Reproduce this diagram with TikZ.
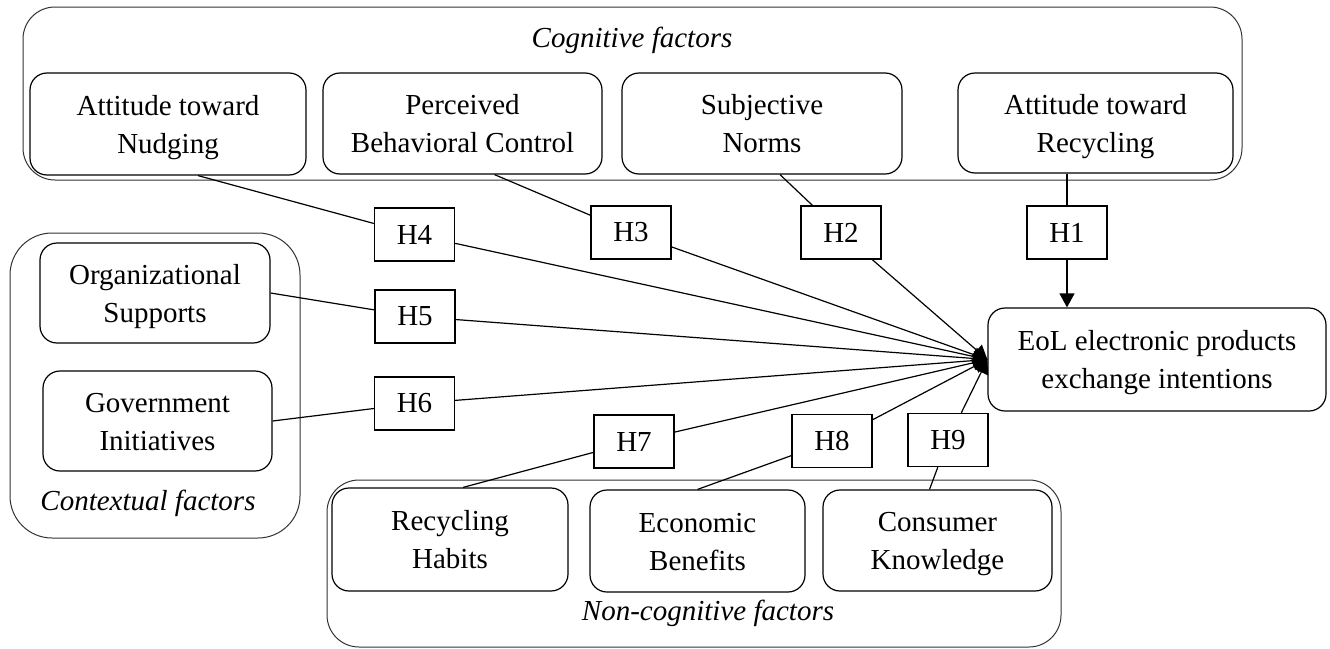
\documentclass[tikz,border=0pt]{standalone}
\usepackage{fontspec}
\setmainfont{Liberation Serif}
\usetikzlibrary{arrows.meta}
\newcommand\twolines[2]{\rule{0pt}{20pt}#1\\\raisebox{0pt}[\height][0pt]{#2}}
\begin{document}
\begin{tikzpicture}[x=1pt,y=-1pt,
  font=\fontsize{29}{38}\selectfont,
  group/.style={draw=black!80, line width=1pt, rounded corners=#1, inner sep=0pt},
  factor/.style={draw, line width=1.2pt, rounded corners=17pt, align=center, inner sep=0pt},
  hyp/.style={draw, line width=1.4pt, fill=white, minimum width=80pt, minimum height=53pt, inner sep=0pt},
  link/.style={line width=1.2pt},
  arr/.style={line width=1.2pt, -{Triangle[width=15pt,length=14pt]}},
  gtitle/.style={font=\fontsize{29}{38}\selectfont\itshape, inner sep=0pt}
]
\useasboundingbox (0,0) rectangle (1330,648);

% group boxes
\node[group=32pt, minimum width=1219pt, minimum height=173pt] (cog) at (632.5,93.5) {};
\node[group=42pt, minimum width=290pt, minimum height=305pt] (ctx) at (155,385.5) {};
\node[group=32pt, minimum width=734pt, minimum height=167pt] (ncog) at (694,563.5) {};

\node[gtitle] (cogt) at (632,40) {Cognitive factors};
\node[gtitle] (ctxt) at (148,503) {Contextual factors};
\node[gtitle] (ncogt) at (708,613) {Non-cognitive factors};

% factor boxes
\node[factor, minimum width=276pt, minimum height=102pt] (nud) at (168,124) {\twolines{Attitude toward}{Nudging}};
\node[factor, minimum width=279pt, minimum height=101pt] (pbc) at (462.5,123.5) {\twolines{Perceived}{Behavioral Control}};
\node[factor, minimum width=280pt, minimum height=101pt] (sn) at (762,123.5) {\twolines{Subjective}{Norms}};
\node[factor, minimum width=275pt, minimum height=100pt] (atr) at (1095.5,123) {\twolines{Attitude toward}{Recycling}};

\node[factor, minimum width=230pt, minimum height=100pt] (org) at (155,293) {\twolines{Organizational}{Supports}};
\node[factor, minimum width=229pt, minimum height=100pt] (gov) at (157.5,421) {\twolines{Government}{Initiatives}};

\node[factor, minimum width=236pt, minimum height=103pt] (rh) at (450,539.5) {\twolines{Recycling}{Habits}};
\node[factor, minimum width=215pt, minimum height=102pt] (eb) at (697.5,541) {\twolines{Economic}{Benefits}};
\node[factor, minimum width=229pt, minimum height=101pt] (ck) at (937.5,540.5) {\twolines{Consumer}{Knowledge}};

\node[factor, minimum width=338pt, minimum height=103pt] (eol) at (1157,359.5) {\twolines{EoL electronic products}{exchange intentions}};

% hypothesis boxes
\node[hyp] (h4) at (414.5,234.5) {H4};
\node[hyp] (h3) at (631,232.5) {H3};
\node[hyp] (h2) at (841,232.5) {H2};
\node[hyp] (h1) at (1067,232.5) {H1};
\node[hyp] (h5) at (415,316.5) {H5};
\node[hyp] (h6) at (414.5,403.5) {H6};
\node[hyp] (h7) at (634,441.5) {H7};
\node[hyp] (h8) at (832,441) {H8};
\node[hyp] (h9) at (948,440) {H9};

% connectors
\draw[link] ([xshift=30pt]nud.south) -- (h4);
\draw[link] ([xshift=32pt]pbc.south) -- (h3);
\draw[link] ([xshift=18pt]sn.south) -- (h2);
\draw[link] (atr.south -| h1) -- (h1);
\draw[link] (org.east) -- (h5);
\draw[link] (gov.east) -- (h6);
\draw[link] ([xshift=13pt]rh.north) -- (h7);
\draw[link] (eb.north) -- (h8);
\draw[link] ([xshift=-8pt]ck.north) -- (h9);

\draw[arr] (h1) -- (h1 |- eol.north);
\foreach \h in {h2,h3,h4,h5,h6,h7,h8,h9}
  \draw[arr] (\h) -- (eol.west);
\end{tikzpicture}
\end{document}
